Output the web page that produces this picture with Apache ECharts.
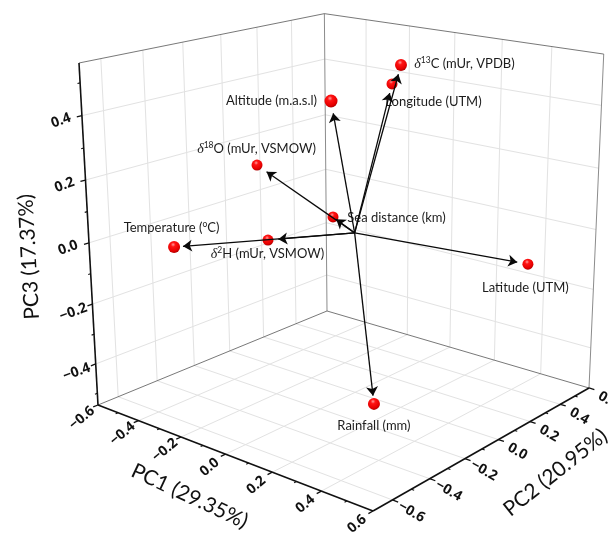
<!DOCTYPE html>
<html>
<head>
<meta charset="utf-8">
<style>html,body{margin:0;padding:0;background:#fff}#c{width:609px;height:534px}</style>
<script src="https://cdn.jsdelivr.net/npm/echarts@6/dist/echarts.min.js"></script>
</head>
<body>
<div id="c"></div>
<script>
// ---------- data ----------
const variables = ['Temperature','d2H','Altitude','d18O','d13C','Longitude','Sea distance','Latitude','Rainfall'];
const pc1 = [-0.512,-0.2425,-0.021,-0.398,0.121,0.048,-0.134,0.392,0.232];
const pc2 = [-0.375,-0.18,-0.1,-0.05,0.1,0.15,0.05,0.5,-0.2];
const pc3 = [-0.066,-0.032,0.434,0.164,0.535,0.4596,0.0175,-0.135,-0.462];
const arrowReach = [0.95,0.88,0.91,0.90,0.946,0.94,0.85,0.937,0.953];
const pc1Ticks = [-0.6,-0.4,-0.2,0.0,0.2,0.4,0.6];
const pc2Ticks = [-0.6,-0.4,-0.2,0.0,0.2,0.4,0.6];
const pc3Ticks = [-0.4,-0.2,0.0,0.2,0.4];
const pc1Minor = [-0.5,-0.3,-0.1,0.1,0.3,0.5];
const pc2Minor = [-0.5,-0.3,-0.1,0.1,0.3,0.5];
const pc3Minor = [-0.5,-0.3,-0.1,0.1,0.3,0.5];
const axisTitles = ['PC1 (29.35%)','PC2 (20.95%)','PC3 (17.37%)'];

// ---------- view: axis box and camera ----------
const box = {x:[-0.6,0.6], y:[-0.7,0.6], z:[-0.54,0.56]};
const camera = [
  [224.64, 281.63, -24.14, 98],
  [37.0, -43.95, -346.1, 405],
  [-0.13502, 0.16094, -0.065, 1]
];
function project(a,b,c){
  const s=(a-box.x[0])/(box.x[1]-box.x[0]), t=(b-box.y[0])/(box.y[1]-box.y[0]), w=(c-box.z[0])/(box.z[1]-box.z[0]);
  const r=camera.map(m=>m[0]*s+m[1]*t+m[2]*w+m[3]);
  return [r[0]/r[2], r[1]/r[2]];
}
const seg=(p,q)=>({coords:[project(...p),project(...q)]});
const [x0,x1]=box.x,[y0,y1]=box.y,[z0,z1]=box.z;

// ---------- geometry built from ticks ----------
const grid=[];
pc2Ticks.filter(v=>v<y1).forEach(v=>{grid.push(seg([x0,v,z0],[x0,v,z1]));grid.push(seg([x0,v,z0],[x1,v,z0]));});
pc1Ticks.filter(v=>v>x0&&v<x1).forEach(v=>{grid.push(seg([v,y1,z0],[v,y1,z1]));grid.push(seg([v,y0,z0],[v,y1,z0]));});
pc3Ticks.forEach(v=>{grid.push(seg([x0,y0,v],[x0,y1,v]));grid.push(seg([x0,y1,v],[x1,y1,v]));});
const edgesLight=[seg([x0,y1,z0],[x0,y1,z1]),seg([x1,y1,z0],[x1,y1,z1])];
const edgesDark=[seg([x0,y0,z1],[x0,y1,z1]),seg([x0,y1,z1],[x1,y1,z1]),seg([x0,y0,z0],[x0,y1,z0]),seg([x0,y1,z0],[x1,y1,z0])];
const axes=[seg([x0,y0,z0],[x0,y0,z1]),seg([x0,y0,z0],[x1,y0,z0]),seg([x1,y0,z0],[x1,y1,z0])];
const ticks=[],minor=[];
const M=0.018,m=0.009;
pc1Ticks.forEach(v=>ticks.push(seg([v,y0,z0],[v,y0-M*1.3,z0])));
pc1Minor.forEach(v=>minor.push(seg([v,y0,z0],[v,y0-m*1.3,z0])));
pc2Ticks.forEach(v=>ticks.push(seg([x1,v,z0],[x1+M*1.2,v,z0])));
pc2Minor.forEach(v=>minor.push(seg([x1,v,z0],[x1+m*1.2,v,z0])));
pc3Ticks.forEach(v=>ticks.push(seg([x0,y0,v],[x0,y0-M*1.3,v])));
pc3Minor.forEach(v=>minor.push(seg([x0,y0,v],[x0,y0-m*1.3,v])));

const arrows=variables.map((n,i)=>{
  const k=arrowReach[i];
  return seg([0,0,0],[pc1[i]*k,pc2[i]*k,pc3[i]*k]);
});

// ---------- labels ----------
const labelText={
  'Temperature':'{n|Temperature (}{s|o}{n|C)}',
  'd2H':'{i|δ}{s|2}{n|H (mUr, VSMOW)}',
  'Altitude':'{n|Altitude (m.a.s.l)}',
  'd18O':'{i|δ}{s|18}{n|O (mUr, VSMOW)}',
  'd13C':'{i|δ}{s|13}{n|C (mUr, VPDB)}',
  'Longitude':'{n|Longitude (UTM)}',
  'Sea distance':'{n|Sea distance (km)}',
  'Latitude':'{n|Latitude (UTM)}',
  'Rainfall':'{n|Rainfall (mm)}'
};
const labelOffset=[[-2.5,-19],[-0.5,14],[-59.5,0],[-0.5,-16],[63.5,-1],[41.5,18],[63.5,1],[-2.5,24],[0,22]];
const markerSize=[12,11,13,11,12,11,11,11,12];
const sphere={type:'radial',x:0.42,y:0.3,r:0.72,colorStops:[{offset:0,color:'#ff9c9c'},{offset:0.26,color:'#ff1414'},{offset:0.75,color:'#e60000'},{offset:1,color:'#a80000'}]};
const noEdge={textBorderWidth:0,textShadowBlur:0};
const lblRich={
  n:{fontFamily:'Lato',fontSize:13,color:'#1c1c1c',lineHeight:16,...noEdge},
  i:{fontFamily:'Liberation Serif',fontStyle:'italic',fontSize:14,color:'#1c1c1c',lineHeight:16,...noEdge},
  s:{fontFamily:'Lato',fontSize:8.5,color:'#1c1c1c',lineHeight:16,verticalAlign:'top',...noEdge}
};
const points=variables.map((n,i)=>({
  value:project(pc1[i],pc2[i],pc3[i]),
  symbolSize:markerSize[i],
  label:{show:true,position:'inside',offset:labelOffset[i],formatter:labelText[n],rich:lblRich,...noEdge}
}));

// rotated labels: ECharts turns the offset with the text, so unturn it here
function turned(d,deg){
  const a=deg*Math.PI/180;
  return [d[0]*Math.cos(a)-d[1]*Math.sin(a), d[0]*Math.sin(a)+d[1]*Math.cos(a)];
}
const tickFont={fontFamily:'Open Sans',fontWeight:'bold',fontSize:14,color:'#111',...noEdge};
const fmt=v=>(v<0?'\u2212':'')+Math.abs(v).toFixed(1);
function tickLabels(vals,fn,offset,rotate){
  return vals.map(v=>({value:fn(v),label:{show:true,position:'inside',offset:turned(offset(v),rotate),rotate:rotate,formatter:fmt(v),...tickFont}}));
}
const tickLabelData=[
  ...tickLabels(pc1Ticks,v=>project(v,y0,z0),v=>[-16,13],40),
  ...tickLabels(pc2Ticks,v=>project(x1,v,z0),v=>[19,12],-30),
  ...tickLabels(pc3Ticks,v=>project(x0,y0,v),v=>v<0?[-19,8]:[-21,5],20)
];
const titleFont={fontFamily:'Lato',fontSize:21,color:'#111',...noEdge};
const titleLabel=(anchor,offset,rotate,text)=>({value:anchor,label:{show:true,position:'inside',offset:turned(offset,rotate),rotate:rotate,formatter:text,...titleFont}});
const titleData=[
  titleLabel(project(0,y0,z0),[-36,42],-25,axisTitles[0]),
  titleLabel(project(x1,0,z0),[57,33],38.6,axisTitles[1]),
  titleLabel(project(x0,y0,0),[-60,14],93,axisTitles[2])
];
const lineSeries=(data,color,width,z)=>({type:'lines',coordinateSystem:'cartesian2d',polyline:false,silent:true,z:z,data:data,lineStyle:{color:color,width:width,opacity:1},effect:{show:false}});

const chart=echarts.init(document.getElementById('c'),null,{renderer:'canvas'});
chart.setOption({
  animation:false,
  backgroundColor:'#fff',
  grid:{left:0,right:0,top:0,bottom:0,containLabel:false},
  xAxis:{type:'value',min:0,max:609,show:false},
  yAxis:{type:'value',min:0,max:534,inverse:true,show:false},
  series:[
    lineSeries(grid,'#e2e2e2',1,1),
    lineSeries(edgesLight,'#8c8c8c',1,2),
    lineSeries(edgesDark,'#555',0.8,2),
    lineSeries(axes,'#111',1.6,3),
    lineSeries(ticks,'#111',1.3,3),
    lineSeries(minor,'#111',1.1,3),
    {type:'scatter',silent:true,z:4,data:points,itemStyle:{color:sphere,opacity:1}},
    {type:'lines',coordinateSystem:'cartesian2d',silent:true,z:5,data:arrows,symbol:['none','arrow'],symbolSize:[0,9],lineStyle:{color:'#0a0a0a',width:1.3,opacity:1}},
    {type:'scatter',silent:true,z:6,symbolSize:0,itemStyle:{opacity:1},data:tickLabelData},
    {type:'scatter',silent:true,z:6,symbolSize:0,itemStyle:{opacity:1},data:titleData}
  ]
});
</script>
</body>
</html>
